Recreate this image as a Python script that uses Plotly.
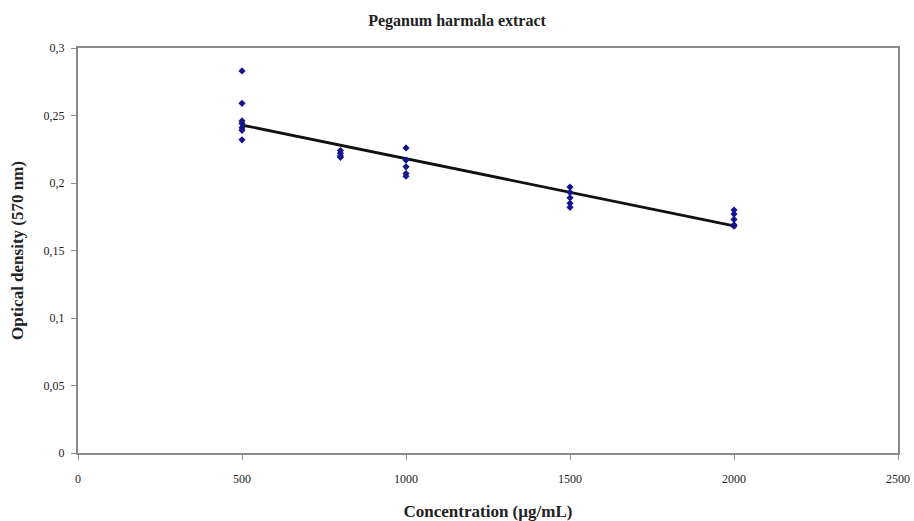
import numpy as np
import plotly.graph_objects as go

# Data
conc_500 = [500] * 7
od_500 = [0.283, 0.259, 0.246, 0.244, 0.241, 0.239, 0.232]
conc_800 = [800] * 4
od_800 = [0.224, 0.222, 0.220, 0.219]
conc_1000 = [1000] * 5
od_1000 = [0.226, 0.217, 0.212, 0.207, 0.205]
conc_1500 = [1500] * 5
od_1500 = [0.197, 0.193, 0.189, 0.185, 0.182]
conc_2000 = [2000] * 5
od_2000 = [0.180, 0.177, 0.173, 0.169, 0.168]

x_ticks = [0, 500, 1000, 1500, 2000, 2500]
x_ticktext = ["0", "500", "1000", "1500", "2000", "2500"]
y_ticks = [0, 0.05, 0.1, 0.15, 0.2, 0.25, 0.3]
y_ticktext = ["0", "0,05", "0,1", "0,15", "0,2", "0,25", "0,3"]

x_all = np.array(conc_500 + conc_800 + conc_1000 + conc_1500 + conc_2000, dtype=float)
y_all = np.array(od_500 + od_800 + od_1000 + od_1500 + od_2000, dtype=float)

slope, intercept = np.polyfit(x_all, y_all, 1)
x_fit = np.array([x_all.min(), x_all.max()])
y_fit = slope * x_fit + intercept

fig = go.Figure()
fig.add_trace(go.Scatter(
    x=x_fit, y=y_fit, mode="lines",
    line=dict(color="#111111", width=2.8), showlegend=False, hoverinfo="skip"))
fig.add_trace(go.Scatter(
    x=x_all, y=y_all, mode="markers",
    marker=dict(symbol="diamond", size=5.5, color="#14148c"),
    showlegend=False))

axis_col = "#8c8c8c"
serif = "Liberation Serif, Times New Roman, serif"

fig.update_layout(
    width=914, height=521,
    margin=dict(l=78, r=16, t=48, b=68),
    paper_bgcolor="white", plot_bgcolor="white",
    font=dict(family=serif, color="#222222"),
    title=dict(text="<b>Peganum harmala extract</b>", x=0.5, xanchor="center",
               y=0.96, yanchor="middle", font=dict(size=16, family=serif, color="#222222")),
    xaxis=dict(
        range=[0, 2500], tickvals=x_ticks, ticktext=x_ticktext, automargin=False,
        showgrid=False, zeroline=False, showline=True, linecolor=axis_col, linewidth=2,
        mirror=True, ticks="outside", ticklen=5, tickcolor=axis_col, tickwidth=1,
        ticklabelstandoff=9,
        tickfont=dict(size=12, family=serif, color="#222222"),
        title=dict(text="<b>Concentration (µg/mL)</b>", standoff=22,
                   font=dict(size=17, family=serif, color="#222222")),
    ),
    yaxis=dict(
        range=[0, 0.3], tickvals=y_ticks, ticktext=y_ticktext, automargin=False,
        showgrid=False, zeroline=False, showline=True, linecolor=axis_col, linewidth=2,
        mirror=True, ticks="outside", ticklen=5, tickcolor=axis_col, tickwidth=1,
        ticklabelstandoff=4,
        tickfont=dict(size=12, family=serif, color="#222222"),
        title=dict(text="<b>Optical density (570 nm)</b>", standoff=16,
                   font=dict(size=17, family=serif, color="#222222")),
    ),
)

fig.write_html("out.html")
